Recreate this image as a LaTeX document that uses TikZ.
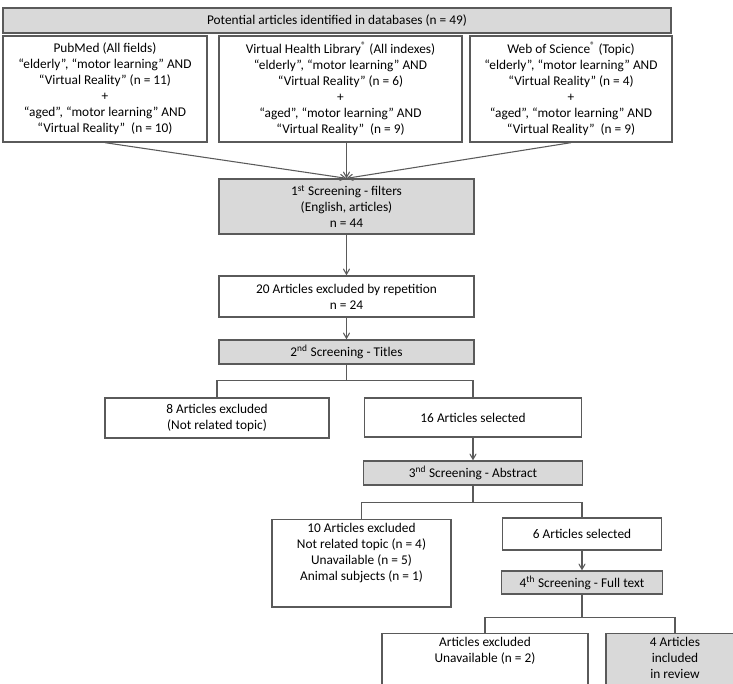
\documentclass[tikz,border=0pt]{standalone}
\usepackage{fontspec}
\setmainfont{Carlito}
\usepackage{tikz}
\usetikzlibrary{arrows}
\newlength\px
\setlength\px{0.75pt}
\definecolor{boxgray}{HTML}{D9D9D9}
\definecolor{linegray}{HTML}{5A5A5A}

\begin{document}
\begin{tikzpicture}[x=0.75pt,y=-0.75pt,>=angle 60,line width=1pt,
                    draw=linegray,font=\fontsize{10}{12}\selectfont]

  \tikzstyle{box}=[rectangle,draw=linegray,align=center,inner sep=3pt]
  \tikzstyle{grey box}=[box,fill=boxgray]
  \tikzstyle{link}=[linegray,line width=0.8pt]

  \clip (0,0) rectangle (733,683);
  \useasboundingbox (0,0) rectangle (733,683);

  \node[grey box,minimum width=668\px,minimum height=25\px] (pot) at (337,20.5)
    {Potential articles identified in databases (n = 49)};
  \node[box,minimum width=204\px,minimum height=106\px] (pub) at (105,89)
    {PubMed (All fields)\\“elderly”, “motor learning” AND\\“Virtual Reality” (n = 11)\\+\\“aged”, “motor learning” AND\\“Virtual Reality”~ (n = 10)};
  \node[box,minimum width=243\px,minimum height=106\px] (vhl) at (340.5,89)
    {Virtual Health Library\textsuperscript{\textregistered} (All indexes)\\“elderly”, “motor learning” AND\\“Virtual Reality” (n = 6)\\+\\“aged”, “motor learning” AND\\“Virtual Reality”~ (n = 9)};
  \node[box,minimum width=202\px,minimum height=106\px] (wos) at (571,89)
    {Web of Science\textsuperscript{\textregistered} (Topic)\\“elderly”, “motor learning” AND\\“Virtual Reality” (n = 4)\\+\\“aged”, “motor learning” AND\\“Virtual Reality”~ (n = 9)};

  \node[grey box,minimum width=255\px,minimum height=55\px] (s1) at (346.5,206.5)
    {1\textsuperscript{st} Screening - filters\\(English, articles)\\n = 44};
  \node[box,minimum width=255\px,minimum height=41\px] (ex20) at (346.5,296.5)
    {20 Articles excluded by repetition\\n = 24};
  \node[grey box,minimum width=255\px,minimum height=24\px] (s2) at (346.5,352)
    {2\textsuperscript{nd} Screening - Titles};

  \node[box,minimum width=224\px,minimum height=40\px] (ex8) at (217,418)
    {8 Articles excluded\\(Not related topic)};
  \node[box,minimum width=217\px,minimum height=39\px] (sel16) at (473,417.5)
    {16 Articles selected};
  \node[grey box,minimum width=219\px,minimum height=24\px] (s3) at (473,473)
    {3\textsuperscript{nd} Screening - Abstract};

  \node[box,minimum width=179\px,anchor=north,text depth=22\px] (ex10) at (361.5,519)
    {10 Articles excluded\\Not related topic (n = 4)\\Unavailable (n = 5)\\Animal subjects (n = 1)};
  \node[box,minimum width=159\px,minimum height=32\px] (sel6) at (582,534)
    {6 Articles selected};
  \node[grey box,minimum width=161\px,minimum height=23\px] (s4) at (582,582.5)
    {4\textsuperscript{th} Screening - Full text};

  \node[box,minimum width=206\px,anchor=north,text depth=60\px] (exA) at (485,633)
    {Articles excluded\\Unavailable (n = 2)};
  \node[grey box,minimum width=138\px,anchor=north,text depth=40\px] (inc4) at (675,633)
    {4 Articles\\included\\in review};

  \path (s2.south) ++(0,16) coordinate (b2);
  \path (s3.south) ++(0,17) coordinate (b3);
  \path (s4.south) ++(0,23) coordinate (b4);

  \draw[link,->] (pub.south) -- (s1.north);
  \draw[link,->] (s1.north |- vhl.south) -- (s1.north);
  \draw[link,->] (wos.south) -- (s1.north);
  \draw[link,->] (s1) -- (ex20);
  \draw[link,->] (ex20) -- (s2);
  \draw[link] (s2.south) -- (b2);
  \draw[link] (ex8.north) |- (b2) -| (sel16.north);
  \draw[link,->] (sel16) -- (s3);
  \draw[link] (s3.south) -- (b3);
  \draw[link] (ex10.north) |- (b3) -| (sel6.north);
  \draw[link,->] (sel6) -- (s4);
  \draw[link] (s4.south) -- (b4);
  \draw[link] (exA.north) |- (b4) -| (inc4.north);
\end{tikzpicture}
\end{document}
